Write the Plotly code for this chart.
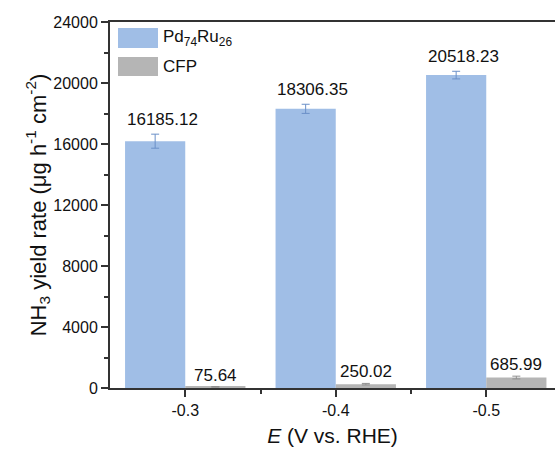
import plotly.graph_objects as go

# Applied potential (V vs. RHE) and NH3 yield rates (ug h^-1 cm^-2)
potentials = ["-0.3", "-0.4", "-0.5"]
pdru_rate = [16185.12, 18306.35, 20518.23]
pdru_err = [460, 300, 250]
cfp_rate = [75.64, 250.02, 685.99]
cfp_err = [20, 50, 90]
y_ticks = [0, 4000, 8000, 12000, 16000, 20000, 24000]

FONT = "Liberation Sans, Arial, sans-serif"
BLUE = "#A0BEE6"
GREY = "#B5B5B5"
AXIS = "#333333"

W, H = 555, 451
L, R, T, B = 110, 0, 22, 63

xpos = list(range(len(potentials)))

fig = go.Figure()
fig.add_trace(go.Bar(
    x=xpos, y=pdru_rate, width=0.4, offset=-0.4,
    marker=dict(color=BLUE, line=dict(width=0)),
    error_y=dict(type="data", array=pdru_err, color="#6B90C8", thickness=1, width=4),
    name="Pd74Ru26", showlegend=False,
))
fig.add_trace(go.Bar(
    x=xpos, y=cfp_rate, width=0.4, offset=0,
    marker=dict(color=GREY, line=dict(width=0)),
    error_y=dict(type="data", array=cfp_err, color="#909090", thickness=1, width=4),
    name="CFP", showlegend=False,
))

# value labels above each bar
for i in xpos:
    fig.add_annotation(x=i - 0.2, y=pdru_rate[i] + pdru_err[i], text=f"{pdru_rate[i]:.2f}",
                       showarrow=False, yanchor="bottom", xshift=7, yshift=3,
                       font=dict(family=FONT, size=17, color="#111"))
    fig.add_annotation(x=i + 0.2, y=cfp_rate[i] + cfp_err[i], text=f"{cfp_rate[i]:.2f}",
                       showarrow=False, yanchor="bottom", yshift=0,
                       font=dict(family=FONT, size=17, color="#111"))

# legend drawn with boxes and labels
pw, ph = W - L - R, H - T - B
def px(xp):
    return (xp - L) / pw
def py(yp):
    return (H - B - yp) / ph

legend_items = [("Pd<sub>74</sub>Ru<sub>26</sub>", BLUE, 28, 48), ("CFP", GREY, 57, 76)]
for label, color, y0, y1 in legend_items:
    fig.add_shape(type="rect", xref="paper", yref="paper",
                  x0=px(118), x1=px(158), y0=py(y1), y1=py(y0),
                  fillcolor=color, line=dict(width=0))
    fig.add_annotation(xref="paper", yref="paper", x=px(161), y=py((y0 + y1) / 2),
                       text=label, showarrow=False, xanchor="left", yanchor="middle",
                       font=dict(family=FONT, size=17, color="#111"))

fig.update_layout(
    width=W, height=H,
    margin=dict(l=L, r=R, t=T, b=B, autoexpand=False),
    paper_bgcolor="white", plot_bgcolor="white",
    font=dict(family=FONT, size=16, color="#111"),
    bargap=0.2,
)
fig.update_xaxes(
    range=[-0.5, (W - L) / 150.5 - 0.5],
    tickvals=xpos, ticktext=potentials,
    ticks="outside", ticklen=7, tickwidth=1.5, tickcolor=AXIS,
    minor=dict(tickvals=[0.5, 1.5], ticks="outside", ticklen=4, tickwidth=1.5, tickcolor=AXIS),
    showline=True, linecolor=AXIS, linewidth=2, mirror=True,
    showgrid=False, zeroline=False,
    tickfont=dict(family=FONT, size=16),
    title=dict(text="<i>E</i> (V vs. RHE)", font=dict(family=FONT, size=21), standoff=10),
)
fig.update_yaxes(
    range=[0, 24000], tickvals=y_ticks, ticktext=[str(v) for v in y_ticks],
    ticks="outside", ticklen=7, tickwidth=1.5, tickcolor=AXIS,
    minor=dict(dtick=2000, ticks="outside", ticklen=4, tickwidth=1.5, tickcolor=AXIS),
    showline=True, linecolor=AXIS, linewidth=2, mirror=False,
    showgrid=False, zeroline=False,
    tickfont=dict(family=FONT, size=16),
    title=dict(text="NH<sub>3</sub> yield rate (μg h<sup>-1</sup> cm<sup>-2</sup>)",
               font=dict(family=FONT, size=22), standoff=1),
)

fig.write_html("out.html")
